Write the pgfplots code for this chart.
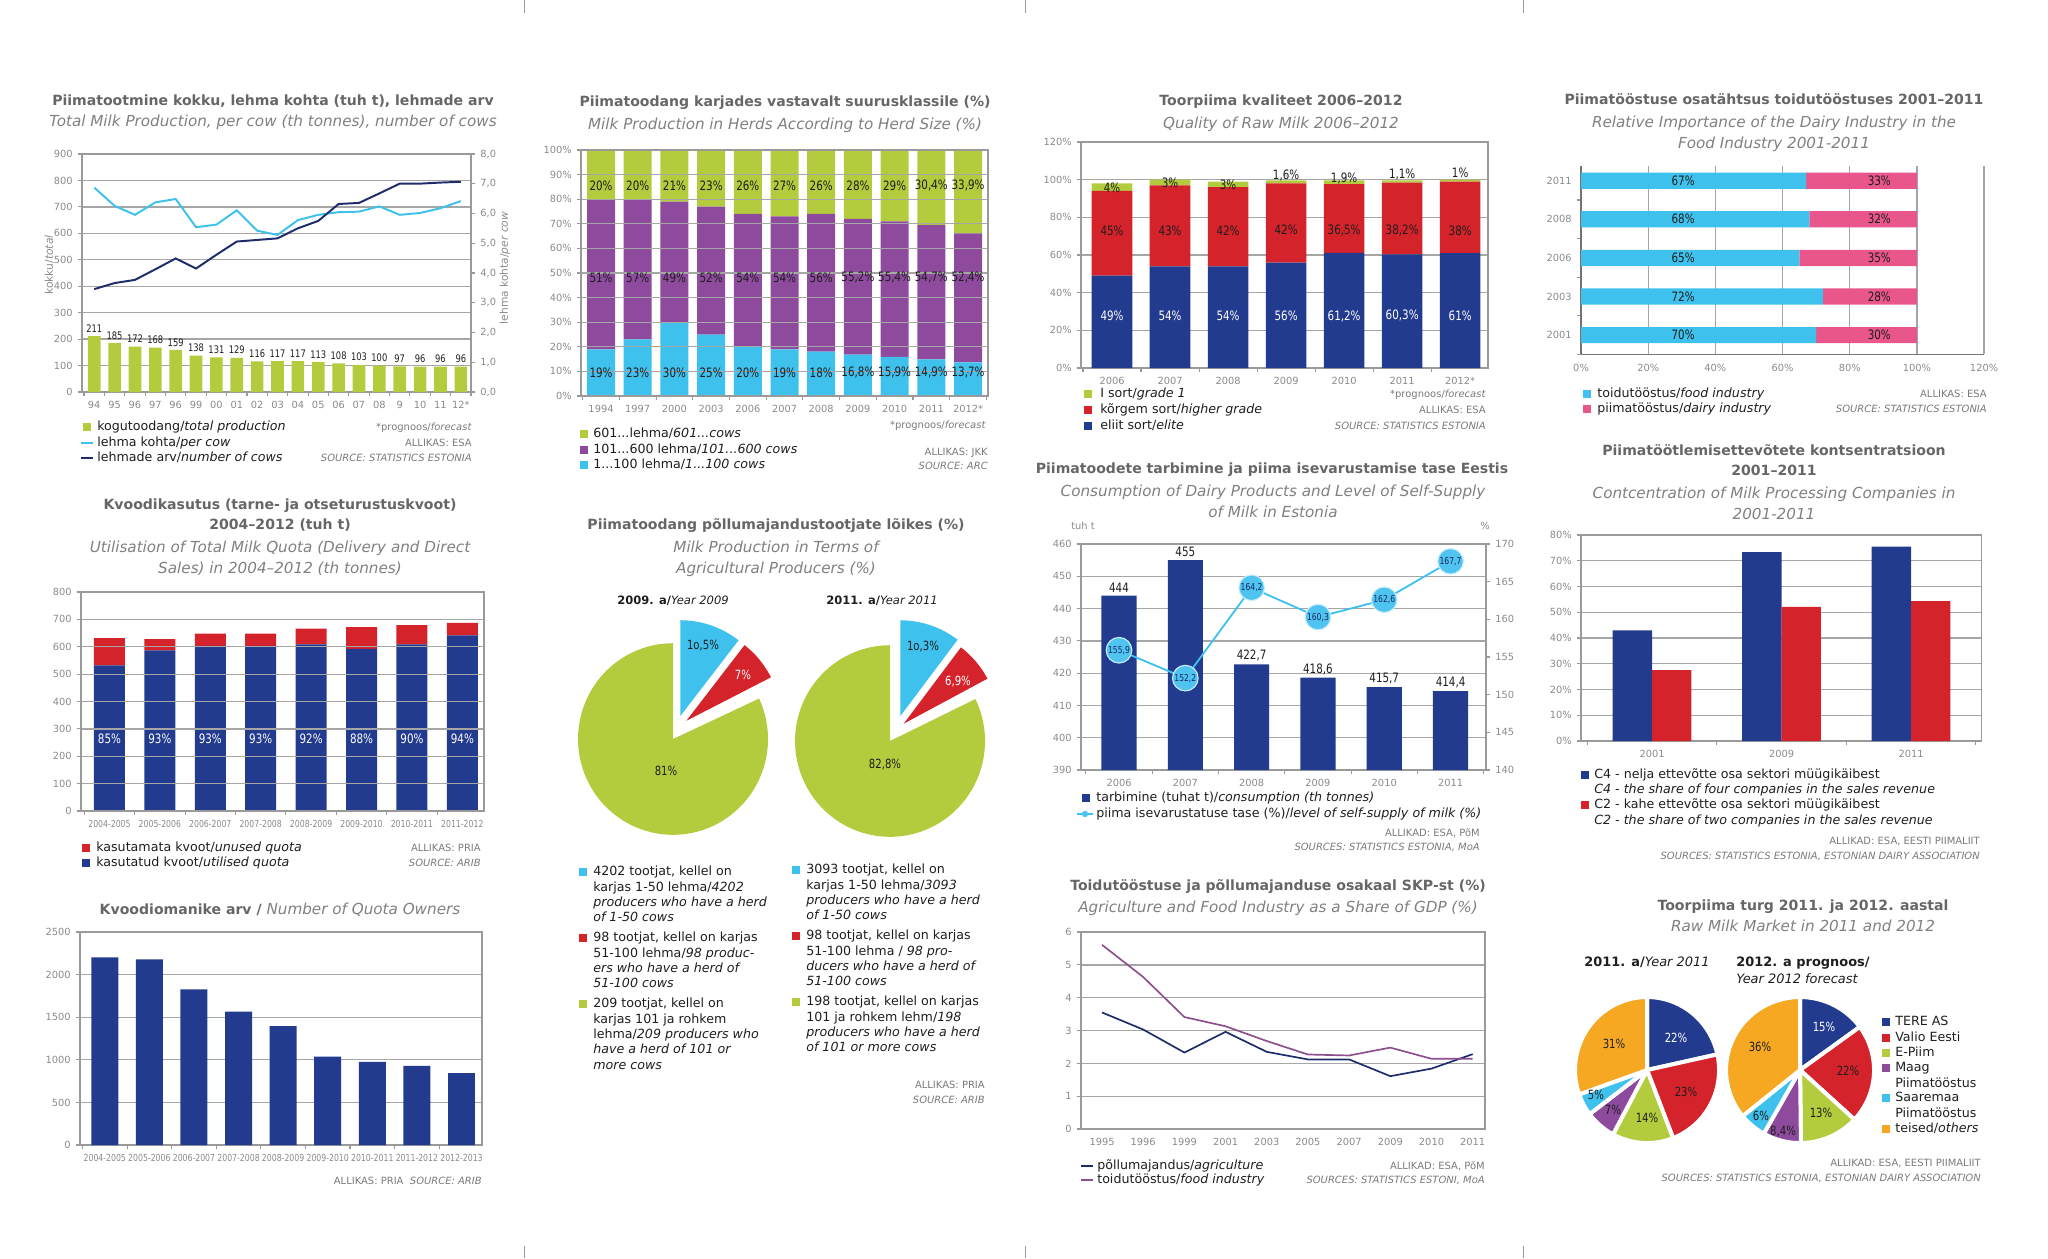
\documentclass[border=0pt]{standalone}
\usepackage{pgfplots}
\pgfplotsset{compat=1.18}
\usepackage{fontspec}
\setmainfont{DejaVu Sans}
\newfontfamily\cond[FakeStretch=0.8]{DejaVu Sans}

\definecolor{ttlc}{HTML}{666666}
\definecolor{subc}{HTML}{808080}
\definecolor{tickc}{HTML}{8A8A8A}
\definecolor{srcc}{HTML}{7A7A7A}
\definecolor{txtc}{HTML}{1E1E1E}
\definecolor{axisc}{HTML}{9A9A9A}
\definecolor{gridc}{HTML}{A6A6A6}
\definecolor{cgreen}{HTML}{B3CC3D}
\definecolor{ccyan}{HTML}{3FC1EE}
\definecolor{cnavy}{HTML}{233B8F}
\definecolor{cred}{HTML}{D5232C}
\definecolor{cpurple}{HTML}{8E4B9E}
\definecolor{cpink}{HTML}{E9568C}
\definecolor{corange}{HTML}{F6A823}
\definecolor{lnavy}{HTML}{1F2C6C}
\definecolor{lpurple}{HTML}{8D4F8E}
\definecolor{cbub}{HTML}{4FC4F0}

\newcommand\TTf{\fontsize{10}{12}\selectfont\bfseries}
\newcommand\STf{\fontsize{10.8}{12}\selectfont\mdseries\itshape}
\newcommand\TKf{\fontsize{7}{8}\selectfont}
\newcommand\LGf{\fontsize{9}{9.5}\selectfont}
\newcommand\SRf{\fontsize{7.1}{8}\selectfont}
\newcommand\BLf{\cond\fontsize{9.2}{10}\selectfont}
\newcommand\CTf{\cond\fontsize{6.9}{8}\selectfont}

\tikzset{
 ttl/.style={font=\TTf, text=ttlc, inner sep=0pt, anchor=mid},
 sub/.style={font=\STf, text=subc, inner sep=0pt, anchor=mid},
 leg/.style={font=\LGf, text=txtc, inner sep=0pt, anchor=mid west},
 src/.style={font=\SRf, text=srcc, inner sep=0pt, anchor=mid east},
 tk/.style={font=\TKf, text=tickc, inner sep=0pt, anchor=mid},
 pl/.style={font=\cond\fontsize{9}{10}\selectfont, text=txtc, inner sep=0pt},
 pleg/.style={font=\fontsize{9}{10.9}\selectfont, text=txtc, inner sep=0pt, anchor=north west, align=left},
 hdr/.style={font=\fontsize{8.2}{10}\selectfont, text=txtc, inner sep=0pt, anchor=mid},
}
\newcommand\sq[3]{\node[fill=#1, minimum size=2.1mm, inner sep=0pt, outer sep=0pt] at (#2,#3) {};}

\pgfplotsset{
 base/.style={scale only axis, anchor=north west, clip=false, scaled ticks=false,
  /pgf/number format/assume math mode=true,
  /pgf/number format/use comma,
  /pgf/number format/1000 sep={},
  axis line style={-, draw=axisc, line width=0.8pt},
  every outer x axis line/.append style={-},
  every outer y axis line/.append style={-},
  tick style={draw=axisc, line width=0.8pt},
  major grid style={draw=gridc, line width=0.9pt},
  tick label style={font=\TKf, text=tickc},
  tick align=outside, major tick length=1.1mm, minor tick length=1.1mm,
  xtick pos=left, ytick pos=left,
  major x tick style={draw=none},
 },
 lab/.style={only marks, mark=*, mark size=0.1pt, mark options={draw=none, fill=none},
  nodes near coords, point meta=explicit symbolic, nodes near coords align={center},
  every node near coord/.append style={font=\BLf, text=txtc, inner sep=0pt}},
}

\begin{document}
\begin{tikzpicture}[x=0.25mm,y=-0.25mm]
\path[use as bounding box] (0,0) rectangle (2048,1258);
\foreach \cx in {524,1025,1523}{\draw[axisc, line width=0.5pt] (\cx,0)--(\cx,13); \draw[axisc,line width=0.5pt] (\cx,1246)--(\cx,1258);}

%%%%%%%%%%%%%%%% CHART 1
\node[ttl] at (273,102) {Piimatootmine kokku, lehma kohta (tuh t), lehmade arv};
\node[sub] at (273,123) {Total Milk Production, per cow (th tonnes), number of cows};
\node[tk, rotate=90, font=\fontsize{7.6}{8}\selectfont] at (49,265) {kokku/\textit{total}};
\node[tk, rotate=90, font=\fontsize{7.6}{8}\selectfont] at (504,268) {lehma kohta/\textit{per cow}};
\begin{axis}[base, at={(20.5mm,-38.5mm)}, width=97.25mm, height=59.5mm,
 xmin=-0.6, xmax=18.5, ymin=0, ymax=900, ytick={0,100,...,900}, ymajorgrids,
 xtick={0,...,18}, xticklabels={94,95,96,97,96,99,00,01,02,03,04,05,06,07,08,9,10,11,12*},
 minor xtick={-0.5,0.5,...,18.5}]
\addplot[ybar, bar width=0.62, fill=cgreen, draw=none, nodes near coords,
 every node near coord/.append style={font=\cond\fontsize{7.4}{8}\selectfont, text=txtc, anchor=south, inner sep=2.5pt}]
 coordinates {(0,211)(1,185)(2,172)(3,168)(4,159)(5,138)(6,131)(7,129)(8,116)(9,117)(10,117)(11,113)(12,108)(13,103)(14,100)(15,97)(16,96)(17,96)(18,96)};
\addplot[ccyan, line width=1.4pt, mark=none] coordinates {(0,773)(1,704)(2,670)(3,717)(4,730)(5,623)(6,633)(7,687)(8,610)(9,594)(10,650)(11,670)(12,680)(13,682)(14,702)(15,670)(16,677)(17,695)(18,722)};
\addplot[lnavy, line width=1.4pt, mark=none] coordinates {(0,389)(1,412)(2,424)(3,464)(4,505)(5,467)(6,519)(7,569)(8,575)(9,581)(10,619)(11,647)(12,711)(13,715)(14,751)(15,788)(16,788)(17,792)(18,795)};
\end{axis}
\begin{axis}[base, at={(20.5mm,-38.5mm)}, width=97.25mm, height=59.5mm,
 xmin=-0.6, xmax=18.5, ymin=0, ymax=8, hide x axis, axis y line*=right, ytick={0,...,8}, ytick pos=right,
 yticklabel={\pgfmathprintnumber[fixed,fixed zerofill,precision=1]{\tick}}]
\addplot[draw=none] coordinates {(0,0)};
\end{axis}
\sq{cgreen}{87}{427}
\node[leg] at (97,427) {kogutoodang/\textit{total production}};
\draw[ccyan, line width=1.4pt] (81,443)--(93,443);
\node[leg] at (97,443) {lehma kohta/\textit{per cow}};
\draw[lnavy, line width=1.4pt] (81,458)--(93,458);
\node[leg] at (97,458) {lehmade arv/\textit{number of cows}};
\node[src] at (472,427) {*prognoos/\textit{forecast}};
\node[src] at (472,443) {ALLIKAS: ESA};
\node[src] at (472,458) {\textit{SOURCE: STATISTICS ESTONIA}};

%%%%%%%%%%%%%%%% CHART 4
\node[ttl] at (785,103) {Piimatoodang karjades vastavalt suurusklassile (\%)};
\node[sub] at (785,126) {Milk Production in Herds According to Herd Size (\%)};
\begin{axis}[base, at={(145.25mm,-37.5mm)}, width=101.75mm, height=61.5mm,
 xmin=-0.545, xmax=10.545, ymin=0, ymax=100, ybar stacked, bar width=0.763,
 ytick={0,10,...,100}, yticklabel={\pgfmathprintnumber{\tick}\%}, ymajorgrids, axis on top,
 xtick={0,...,10}, xticklabels={1994,1997,2000,2003,2006,2007,2008,2009,2010,2011,2012*},
 minor xtick={-0.5,0.5,...,10.5}]
\addplot[fill=ccyan, draw=none] coordinates {(0,19)(1,23)(2,30)(3,25)(4,20)(5,19)(6,18)(7,16.8)(8,15.9)(9,14.9)(10,13.7)};
\addplot[fill=cpurple, draw=none] coordinates {(0,61)(1,57)(2,49)(3,52)(4,54)(5,54)(6,56)(7,55.2)(8,55.1)(9,54.7)(10,52.4)};
\addplot[fill=cgreen, draw=none] coordinates {(0,20)(1,20)(2,21)(3,23)(4,26)(5,27)(6,26)(7,28)(8,29)(9,30.4)(10,33.9)};
\end{axis}
\begin{axis}[base, hide axis, at={(145.25mm,-37.5mm)}, width=101.75mm, height=61.5mm,
 xmin=-0.545, xmax=10.545, ymin=0, ymax=100]
\addplot[lab] coordinates {(0,85.5)[20\%] (1,85.5)[20\%] (2,85.5)[21\%] (3,85.5)[23\%] (4,85.5)[26\%] (5,85.5)[27\%] (6,85.5)[26\%] (7,85.5)[28\%] (8,85.5)[29\%] (9,85.5)[30,4\%] (10,85.5)[33,9\%]};
\addplot[lab] coordinates {(0,48)[51\%] (1,48)[57\%] (2,48)[49\%] (3,48)[52\%] (4,48)[54\%] (5,48)[54\%] (6,48)[56\%] (7,48)[55,2\%] (8,48)[55,4\%] (9,48)[54,7\%] (10,48)[52,4\%]};
\addplot[lab] coordinates {(0,9.5)[19\%] (1,9.5)[23\%] (2,9.5)[30\%] (3,9.5)[25\%] (4,9.5)[20\%] (5,9.5)[19\%] (6,9.5)[18\%] (7,9.5)[16,8\%] (8,9.5)[15,9\%] (9,9.5)[14,9\%] (10,9.5)[13,7\%]};
\end{axis}
\node[src] at (986,425) {*prognoos/\textit{forecast}};
\sq{cgreen}{584}{434} \node[leg] at (593,434) {601...lehma/\textit{601...cows}};
\sq{cpurple}{584}{450} \node[leg] at (593,450) {101...600 lehma/\textit{101...600 cows}};
\sq{ccyan}{584}{465} \node[leg] at (593,465) {1...100 lehma/\textit{1...100 cows}};
\node[src] at (988,452) {ALLIKAS: JKK};
\node[src] at (988,466) {\textit{SOURCE: ARC}};

%%%%%%%%%%%%%%%% CHART 6
\node[ttl] at (1281,102) {Toorpiima kvaliteet 2006--2012};
\node[sub] at (1281,125) {Quality of Raw Milk 2006--2012};
\begin{axis}[base, at={(270.25mm,-35.5mm)}, width=101.75mm, height=56.5mm,
 xmin=-0.534, xmax=6.48, ymin=0, ymax=120, ybar stacked, bar width=0.70,
 ytick={0,20,...,120}, yticklabel={\pgfmathprintnumber{\tick}\%}, ymajorgrids,
 xtick={0,...,6}, xticklabels={2006,2007,2008,2009,2010,2011,2012*},
 minor xtick={-0.5,0.5,...,6.5}]
\addplot[fill=cnavy, draw=none] coordinates {(0,49)(1,54)(2,54)(3,56)(4,61.2)(5,60.3)(6,61)};
\addplot[fill=cred, draw=none] coordinates {(0,45)(1,43)(2,42)(3,42)(4,36.5)(5,38.2)(6,38)};
\addplot[fill=cgreen, draw=none] coordinates {(0,4)(1,3)(2,3)(3,1.6)(4,1.9)(5,1.1)(6,1)};
\end{axis}
\begin{axis}[base, hide axis, at={(270.25mm,-35.5mm)}, width=101.75mm, height=56.5mm,
 xmin=-0.534, xmax=6.48, ymin=0, ymax=120]
\addplot[lab] coordinates {(0,95.5)[4\%] (1,98.2)[3\%] (2,97.3)[3\%] (3,102)[1,6\%] (4,100.8)[1,9\%] (5,102.6)[1,1\%] (6,103.5)[1\%]};
\addplot[lab] coordinates {(0,72.8)[45\%] (1,72.8)[43\%] (2,72.8)[42\%] (3,73.3)[42\%] (4,72.8)[36,5\%] (5,72.8)[38,2\%] (6,72.8)[38\%]};
\addplot[lab, every node near coord/.append style={text=white}] coordinates {(0,27.5)[49\%] (1,27.5)[54\%] (2,27.5)[54\%] (3,27.8)[56\%] (4,27.5)[61,2\%] (5,27.8)[60,3\%] (6,27.5)[61\%]};
\end{axis}
\sq{cgreen}{1088}{394} \node[leg] at (1100,394) {I sort/\textit{grade 1}};
\sq{cred}{1088}{410} \node[leg] at (1100,410) {kõrgem sort/\textit{higher grade}};
\sq{cnavy}{1088}{426} \node[leg] at (1100,426) {eliit sort/\textit{elite}};
\node[src] at (1486,394) {*prognoos/\textit{forecast}};
\node[src] at (1486,410) {ALLIKAS: ESA};
\node[src] at (1486,426) {\textit{SOURCE: STATISTICS ESTONIA}};

%%%%%%%%%%%%%%%% CHART 9
\node[ttl] at (1774,101) {Piimatööstuse osatähtsus toidutööstuses 2001--2011};
\node[sub] at (1774,124) {Relative Importance of the Dairy Industry in the};
\node[sub] at (1774,145) {Food Industry 2001-2011};
\begin{axis}[base, at={(395.25mm,-41.5mm)}, width=100.75mm, height=47.1mm,
 xbar stacked, bar width=0.42, xmin=0, xmax=120, ymin=-0.5, ymax=4.38,
 xtick={0,20,...,120}, xticklabel={\pgfmathprintnumber{\tick}\%}, xmajorgrids,
 ytick={0,...,4}, yticklabels={2001,2003,2006,2008,2011}, minor ytick={-0.5,0.5,...,3.5},
 major y tick style={draw=none}, axis x line*=bottom, axis y line*=left,
 axis line style={-, draw=black!55, line width=0.9pt}]
\addplot[fill=ccyan, draw=none] coordinates {(70,0)(72,1)(65,2)(68,3)(67,4)};
\addplot[fill=cpink, draw=none] coordinates {(30,0)(28,1)(35,2)(32,3)(33,4)};
\end{axis}
\begin{axis}[base, hide axis, at={(395.25mm,-41.5mm)}, width=100.75mm, height=47.1mm,
 xmin=0, xmax=120, ymin=-0.5, ymax=4.38]
\addplot[lab] coordinates {(30.4,0)[70\%] (30.4,1)[72\%] (30.4,2)[65\%] (30.4,3)[68\%] (30.4,4)[67\%]};
\addplot[lab] coordinates {(88.8,0)[30\%] (88.8,1)[28\%] (88.8,2)[35\%] (88.8,3)[32\%] (88.8,4)[33\%]};
\end{axis}
\sq{ccyan}{1587}{394} \node[leg] at (1597,394) {toidutööstus/\textit{food industry}};
\sq{cpink}{1587}{409} \node[leg] at (1597,409) {piimatööstus/\textit{dairy industry}};
\node[src] at (1987,394) {ALLIKAS: ESA};
\node[src] at (1987,409) {\textit{SOURCE: STATISTICS ESTONIA}};

%%%%%%%%%%%%%%%% CHART 2
\node[ttl] at (280,506) {Kvoodikasutus (tarne- ja otseturustuskvoot)};
\node[ttl] at (280,526) {2004--2012 (tuh t)};
\node[sub] at (280,549) {Utilisation of Total Milk Quota (Delivery and Direct};
\node[sub] at (280,570) {Sales) in 2004--2012 (th tonnes)};
\begin{axis}[base, at={(20.25mm,-148mm)}, width=100.75mm, height=54.75mm,
 xmin=-0.565, xmax=7.43, ymin=0, ymax=800, ytick={0,100,...,800}, ymajorgrids, axis on top,
 ybar stacked, bar width=0.615,
 xtick={0,...,7}, xticklabels={2004-2005,2005-2006,2006-2007,2007-2008,2008-2009,2009-2010,2010-2011,2011-2012},
 x tick label style={font=\CTf}, minor xtick={-0.5,0.5,...,7.5}]
\addplot[fill=cnavy, draw=none] coordinates {(0,532)(1,587)(2,603)(3,603)(4,609)(5,592)(6,609)(7,642)};
\addplot[fill=cred, draw=none] coordinates {(0,100)(1,41)(2,45)(3,45)(4,57)(5,80)(6,70)(7,45)};
\end{axis}
\begin{axis}[base, hide axis, at={(20.25mm,-148mm)}, width=100.75mm, height=54.75mm,
 xmin=-0.565, xmax=7.43, ymin=0, ymax=800]
\addplot[lab, every node near coord/.append style={text=white}] coordinates {(0,264)[85\%] (1,264)[93\%] (2,264)[93\%] (3,264)[93\%] (4,264)[92\%] (5,264)[88\%] (6,264)[90\%] (7,264)[94\%]};
\end{axis}
\sq{cred}{86}{848} \node[leg] at (96,848) {kasutamata kvoot/\textit{unused quota}};
\sq{cnavy}{86}{863} \node[leg] at (96,863) {kasutatud kvoot/\textit{utilised quota}};
\node[src] at (481,848) {ALLIKAS: PRIA};
\node[src] at (481,863) {\textit{SOURCE: ARIB}};

%%%%%%%%%%%%%%%% CHART 3
\node[inner sep=0pt, anchor=mid] at (280,911) {\TTf\color{ttlc}Kvoodiomanike arv / \STf\color{subc}Number of Quota Owners};
\begin{axis}[base, at={(20mm,-233mm)}, width=100.5mm, height=53.25mm,
 xmin=-0.556, xmax=8.46, ymin=0, ymax=2500, ytick={0,500,...,2500}, ymajorgrids,
 yticklabel={\pgfmathprintnumber[1000 sep={}]{\tick}},
 xtick={0,...,8}, xticklabels={2004-2005,2005-2006,2006-2007,2007-2008,2008-2009,2009-2010,2010-2011,2011-2012,2012-2013},
 x tick label style={font=\CTf}, minor xtick={-0.5,0.5,...,8.5}]
\addplot[ybar, bar width=0.605, fill=cnavy, draw=none] coordinates {(0,2203)(1,2180)(2,1828)(3,1566)(4,1395)(5,1039)(6,977)(7,930)(8,844)};
\end{axis}
\node[src] at (482,1181) {ALLIKAS: PRIA\ \ \textit{SOURCE: ARIB}};

%%%%%%%%%%%%%%%% CHART 5 (pies)
\node[ttl] at (776,526) {Piimatoodang põllumajandustootjate lõikes (\%)};
\node[sub] at (776,549) {Milk Production in Terms of};
\node[sub] at (776,570) {Agricultural Producers (\%)};
\node[hdr] at (673,601) {\textbf{2009. a/}\textit{Year 2009}};
\node[hdr] at (882,601) {\textbf{2011. a/}\textit{Year 2011}};
\begin{axis}[hide axis, scale only axis, anchor=center, at={(168.25mm,-184.75mm)}, width=47.5mm, height=47.9mm,
 xmin=-1, xmax=1, ymin=-1, ymax=1, clip=false]
\addplot[fill=cgreen, draw=none, domain=-270:25, samples=120] ({cos(x)},{sin(x)}) -- (axis cs:0,0) -- cycle;
\addplot[fill=cred, draw=none, domain=27:52.2, samples=30] ({0.14+cos(x)},{0.19+sin(x)}) -- (axis cs:0.14,0.19) -- cycle;
\addplot[fill=ccyan, draw=none, domain=52.2:90, samples=30] ({0.077+cos(x)},{0.24+sin(x)}) -- (axis cs:0.077,0.24) -- cycle;
\end{axis}
\begin{axis}[hide axis, scale only axis, anchor=center, at={(222.5mm,-185.25mm)}, width=47.5mm, height=47.9mm,
 xmin=-1, xmax=1, ymin=-1, ymax=1, clip=false]
\addplot[fill=cgreen, draw=none, domain=-270:26, samples=120] ({cos(x)},{sin(x)}) -- (axis cs:0,0) -- cycle;
\addplot[fill=cred, draw=none, domain=28.1:52.9, samples=30] ({0.143+cos(x)},{0.18+sin(x)}) -- (axis cs:0.143,0.18) -- cycle;
\addplot[fill=ccyan, draw=none, domain=52.9:90, samples=30] ({0.108+cos(x)},{0.26+sin(x)}) -- (axis cs:0.108,0.26) -- cycle;
\end{axis}
\node[pl] at (703,646) {1o,5\%};
\node[pl, text=white] at (743,675) {7\%};
\node[pl] at (666,771) {81\%};
\node[pl] at (923,647) {1o,3\%};
\node[pl, text=white] at (958,682) {6,9\%};
\node[pl] at (885,765) {82,8\%};
\sq{ccyan}{583}{872}
\node[pleg] at (593,866) {4202 tootjat, kellel on\\karjas 1-50 lehma/\textit{4202}\\\textit{producers who have a herd}\\\textit{of 1-50 cows}};
\sq{cred}{583}{938}
\node[pleg] at (593,932) {98 tootjat, kellel on karjas\\51-100 lehma/\textit{98 produc-}\\\textit{ers who have a herd of}\\\textit{51-100 cows}};
\sq{cgreen}{583}{1004}
\node[pleg] at (593,998) {209 tootjat, kellel on\\karjas 101 ja rohkem\\lehma/\textit{209 producers who}\\\textit{have a herd of 101 or}\\\textit{more cows}};
\sq{ccyan}{796}{870}
\node[pleg] at (806,864) {3093 tootjat, kellel on\\karjas 1-50 lehma/\textit{3093}\\\textit{producers who have a herd}\\\textit{of 1-50 cows}};
\sq{cred}{796}{936}
\node[pleg] at (806,930) {98 tootjat, kellel on karjas\\51-100 lehma / \textit{98 pro-}\\\textit{ducers who have a herd of}\\\textit{51-100 cows}};
\sq{cgreen}{796}{1002}
\node[pleg] at (806,996) {198 tootjat, kellel on karjas\\101 ja rohkem lehm/\textit{198}\\\textit{producers who have a herd}\\\textit{of 101 or more cows}};
\node[src] at (985,1085) {ALLIKAS: PRIA};
\node[src] at (985,1100) {\textit{SOURCE: ARIB}};

%%%%%%%%%%%%%%%% CHART 7
\node[ttl] at (1272,470) {Piimatoodete tarbimine ja piima isevarustamise tase Eestis};
\node[sub] at (1273,493) {Consumption of Dairy Products and Level of Self-Supply};
\node[sub] at (1273,514) {of Milk in Estonia};
\node[tk] at (1083,526) {tuh t};
\node[tk] at (1485,526) {\%};
\begin{axis}[base, clip=true, at={(270.25mm,-136mm)}, width=101.25mm, height=56.5mm,
 xmin=-0.573, xmax=5.535, ymin=390, ymax=460, ytick={390,400,...,460}, ymajorgrids,
 xtick={0,...,5}, xticklabels={2006,2007,2008,2009,2010,2011}, minor xtick={-0.5,0.5,...,5.5}]
\addplot[ybar, bar width=0.53, fill=cnavy, draw=none, nodes near coords,
 every node near coord/.append style={font=\BLf, text=txtc, anchor=south, inner sep=2pt}]
 coordinates {(0,444)(1,455)(2,422.7)(3,418.6)(4,415.7)(5,414.4)};
\end{axis}
\begin{axis}[base, at={(270.25mm,-136mm)}, width=101.25mm, height=56.5mm,
 xmin=-0.573, xmax=5.535, ymin=140, ymax=170, hide x axis, axis y line*=right,
 ytick={140,145,...,170}, ytick pos=right]
\addplot[ccyan, line width=1.3pt, mark=*, mark size=3.2mm, mark options={fill=cbub, draw=white!70!cbub, line width=0.8pt},
 nodes near coords, point meta=explicit symbolic, nodes near coords align={center},
 every node near coord/.append style={font=\cond\fontsize{6.8}{7}\selectfont, text=cnavy!70!black, inner sep=0pt}]
 coordinates {(0,155.9)[155,9] (1,152.2)[152,2] (2,164.2)[164,2] (3,160.3)[160,3] (4,162.6)[162,6] (5,167.7)[167,7]};
\end{axis}
\sq{cnavy}{1086}{798} \node[leg] at (1096,798) {tarbimine (tuhat t)/\textit{consumption (th tonnes)}};
\draw[ccyan, line width=1.2pt] (1077,814)--(1093,814);
\fill[cbub] (1085,814) circle[radius=0.8mm];
\node[leg] at (1096,814) {piima isevarustatuse tase (\%)/\textit{level of self-supply of milk (\%)}};
\node[src] at (1480,833) {ALLIKAD: ESA, PõM};
\node[src] at (1480,847) {\textit{SOURCES: STATISTICS ESTONIA, MoA}};

%%%%%%%%%%%%%%%% CHART 10
\node[ttl] at (1774,452) {Piimatöötlemisettevõtete kontsentratsioon};
\node[ttl] at (1774,472) {2001--2011};
\node[sub] at (1774,495) {Contcentration of Milk Processing Companies in};
\node[sub] at (1774,516) {2001-2011};
\begin{axis}[base, at={(395.25mm,-133.75mm)}, width=100mm, height=51.5mm,
 xmin=-0.548, xmax=2.54, ymin=0, ymax=80, ytick={0,10,...,80}, yticklabel={\pgfmathprintnumber{\tick}\%}, ymajorgrids,
 xtick={0,1,2}, xticklabels={2001,2009,2011}, minor xtick={-0.5,0.5,1.5,2.5}]
\addplot[ybar, bar width=0.304, bar shift=-0.152, fill=cnavy, draw=none] coordinates {(0,43)(1,73.4)(2,75.5)};
\addplot[ybar, bar width=0.304, bar shift=0.152, fill=cred, draw=none] coordinates {(0,27.5)(1,52.1)(2,54.3)};
\end{axis}
\sq{cnavy}{1585}{775}
\node[leg] at (1594,775) {C4 - nelja ettevõtte osa sektori müügikäibest};
\node[leg] at (1594,790) {\textit{C4 - the share of four companies in the sales revenue}};
\sq{cred}{1585}{805}
\node[leg] at (1594,805) {C2 - kahe ettevõtte osa sektori müügikäibest};
\node[leg] at (1594,821) {\textit{C2 - the share of two companies in the sales revenue}};
\node[src] at (1980,841) {ALLIKAD: ESA, EESTI PIIMALIIT};
\node[src] at (1980,856) {\textit{SOURCES: STATISTICS ESTONIA, ESTONIAN DAIRY ASSOCIATION}};

%%%%%%%%%%%%%%%% CHART 8
\node[ttl] at (1278,887) {Toidutööstuse ja põllumajanduse osakaal SKP-st (\%)};
\node[sub] at (1278,909) {Agriculture and Food Industry as a Share of GDP (\%)};
\begin{axis}[base, at={(270.25mm,-233mm)}, width=101mm, height=49.25mm,
 xmin=-0.51, xmax=9.3, ymin=0, ymax=6, ytick={0,...,6}, ymajorgrids,
 xtick={0,...,9}, xticklabels={1995,1996,1999,2001,2003,2005,2007,2009,2010,2011}]
\addplot[lnavy, line width=1.2pt, mark=none] coordinates {(0,3.55)(1,3.03)(2,2.33)(3,2.96)(4,2.35)(5,2.12)(6,2.12)(7,1.61)(8,1.84)(9,2.28)};
\addplot[lpurple, line width=1.2pt, mark=none] coordinates {(0,5.61)(1,4.63)(2,3.41)(3,3.13)(4,2.68)(5,2.27)(6,2.24)(7,2.48)(8,2.14)(9,2.14)};
\end{axis}
\draw[lnavy, line width=1.2pt] (1081,1166)--(1093,1166);
\node[leg] at (1097,1166) {põllumajandus/\textit{agriculture}};
\draw[lpurple, line width=1.2pt] (1081,1180)--(1093,1180);
\node[leg] at (1097,1180) {toidutööstus/\textit{food industry}};
\node[src] at (1485,1166) {ALLIKAD: ESA, PõM};
\node[src] at (1485,1180) {\textit{SOURCES: STATISTICS ESTONI, MoA}};

%%%%%%%%%%%%%%%% CHART 11
\node[ttl] at (1803,907) {Toorpiima turg 2011. ja 2012. aastal};
\node[sub] at (1803,928) {Raw Milk Market in 2011 and 2012};
\node[hdr, font=\fontsize{9.2}{10}\selectfont] at (1647,963) {\textbf{2011. a/}\textit{Year 2011}};
\node[hdr, font=\fontsize{9.2}{10}\selectfont, anchor=mid west] at (1736,963) {\textbf{2012. a prognoos/}};
\node[hdr, font=\fontsize{9.2}{10}\selectfont, anchor=mid west] at (1736,980) {\textit{Year 2012 forecast}};
\begin{axis}[hide axis, scale only axis, anchor=center, at={(411.75mm,-267.5mm)}, width=36mm, height=36.5mm,
 xmin=-1, xmax=1, ymin=-1, ymax=1, clip=false]
\addplot[fill=cnavy, draw=white, line width=1mm, line join=round, domain=12.4:90, samples=40] ({cos(x)},{sin(x)}) -- (axis cs:0,0) -- cycle;
\addplot[fill=cred, draw=white, line width=1mm, line join=round, domain=-68.8:12.4, samples=40] ({cos(x)},{sin(x)}) -- (axis cs:0,0) -- cycle;
\addplot[fill=cgreen, draw=white, line width=1mm, line join=round, domain=-118.2:-68.8, samples=30] ({cos(x)},{sin(x)}) -- (axis cs:0,0) -- cycle;
\addplot[fill=cpurple, draw=white, line width=1mm, line join=round, domain=-142.9:-118.2, samples=20] ({cos(x)},{sin(x)}) -- (axis cs:0,0) -- cycle;
\addplot[fill=ccyan, draw=white, line width=1mm, line join=round, domain=-160.5:-142.9, samples=20] ({cos(x)},{sin(x)}) -- (axis cs:0,0) -- cycle;
\addplot[fill=corange, draw=white, line width=1mm, line join=round, domain=-270:-160.5, samples=50] ({cos(x)},{sin(x)}) -- (axis cs:0,0) -- cycle;
\end{axis}
\begin{axis}[hide axis, scale only axis, anchor=center, at={(450mm,-267.5mm)}, width=37mm, height=36.5mm,
 xmin=-1, xmax=1, ymin=-1, ymax=1, clip=false]
\addplot[fill=cnavy, draw=white, line width=1mm, line join=round, domain=36.2:90, samples=30] ({cos(x)},{sin(x)}) -- (axis cs:0,0) -- cycle;
\addplot[fill=cred, draw=white, line width=1mm, line join=round, domain=-42.7:36.2, samples=40] ({cos(x)},{sin(x)}) -- (axis cs:0,0) -- cycle;
\addplot[fill=cgreen, draw=white, line width=1mm, line join=round, domain=-89.3:-42.7, samples=30] ({cos(x)},{sin(x)}) -- (axis cs:0,0) -- cycle;
\addplot[fill=cpurple, draw=white, line width=1mm, line join=round, domain=-119.4:-89.3, samples=20] ({cos(x)},{sin(x)}) -- (axis cs:0,0) -- cycle;
\addplot[fill=ccyan, draw=white, line width=1mm, line join=round, domain=-140.9:-119.4, samples=20] ({cos(x)},{sin(x)}) -- (axis cs:0,0) -- cycle;
\addplot[fill=corange, draw=white, line width=1mm, line join=round, domain=-270:-140.9, samples=60] ({cos(x)},{sin(x)}) -- (axis cs:0,0) -- cycle;
\end{axis}
\node[pl, text=white] at (1676,1038) {22\%};
\node[pl] at (1686,1092) {23\%};
\node[pl] at (1647,1118) {14\%};
\node[pl] at (1613,1110) {7\%};
\node[pl] at (1596,1095) {5\%};
\node[pl] at (1614,1044) {31\%};
\node[pl, text=white] at (1824,1027) {15\%};
\node[pl] at (1848,1071) {22\%};
\node[pl] at (1821,1113) {13\%};
\node[pl] at (1783,1132) {8,4\%};
\node[pl] at (1761,1116) {6\%};
\node[pl] at (1760,1047) {36\%};
\sq{cnavy}{1886}{1022} \node[leg] at (1895,1022) {TERE AS};
\sq{cred}{1886}{1038} \node[leg] at (1895,1038) {Valio Eesti};
\sq{cgreen}{1886}{1053} \node[leg] at (1895,1053) {E-Piim};
\sq{cpurple}{1886}{1068} \node[leg] at (1895,1068) {Maag};
\node[leg] at (1895,1084) {Piimatööstus};
\sq{ccyan}{1886}{1098} \node[leg] at (1895,1098) {Saaremaa};
\node[leg] at (1895,1114) {Piimatööstus};
\sq{corange}{1886}{1129} \node[leg] at (1895,1129) {teised/\textit{others}};
\node[src] at (1981,1163) {ALLIKAD: ESA, EESTI PIIMALIIT};
\node[src] at (1981,1178) {\textit{SOURCES: STATISTICS ESTONIA, ESTONIAN DAIRY ASSOCIATION}};
\end{tikzpicture}
\end{document}
